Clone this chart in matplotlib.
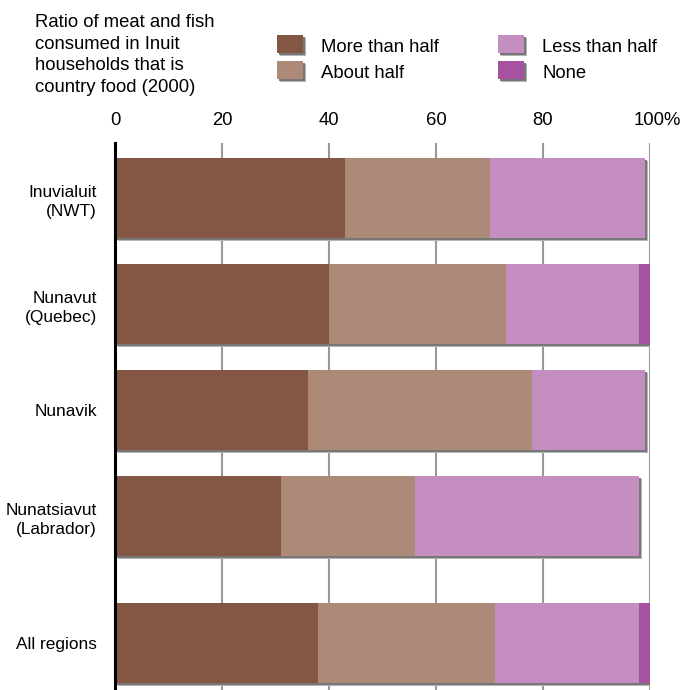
import matplotlib
matplotlib.use("Agg")
import matplotlib.pyplot as plt
import matplotlib.patheffects as pe
from matplotlib.patches import Rectangle
from matplotlib.transforms import ScaledTranslation
import numpy as np

plt.rcParams['font.family'] = ['Liberation Sans', 'DejaVu Sans']

regions = ["Inuvialuit\n(NWT)", "Nunavut\n(Quebec)", "Nunavik", "Nunatsiavut\n(Labrador)", "All regions"]
row_pos = [0, 1, 2, 3, 4.2]
series_names = ["More than half", "About half", "Less than half", "None"]
more_than_half = [43, 40, 36, 31, 38]
about_half = [27, 33, 42, 25, 33]
less_than_half = [29, 25, 21, 42, 27]
none = [0, 2, 0, 0, 2]
colors = ["#845644", "#AC8A77", "#C48EC0", "#A652A0"]
xticks = [0, 20, 40, 60, 80, 100]
xticklabels = ["0", "20", "40", "60", "80", "100%"]
title = "Ratio of meat and fish\nconsumed in Inuit\nhouseholds that is\ncountry food (2000)"

FS = 13.3
W, H = 682, 690
fig = plt.figure(figsize=(W / 100, H / 100), dpi=100)
ax = fig.add_axes([115 / W, 0, 535 / W, 547 / H])

shadow = [pe.SimplePatchShadow(offset=(2.2, -2.2), shadow_rgbFace="#b5b5b5", alpha=1.0),
          pe.SimplePatchShadow(offset=(1.4, -1.4), shadow_rgbFace="#777777", alpha=1.0),
          pe.Normal()]

series = [more_than_half, about_half, less_than_half, none]
left = np.zeros(len(regions))
for vals, c, name in zip(series, colors, series_names):
    v = np.array(vals, dtype=float)
    bars = ax.barh(row_pos, v, left=left, height=0.755, color=c, label=name, zorder=3)
    for b, val in zip(bars, v):
        if val > 0:
            b.set_path_effects(shadow)
        else:
            b.set_visible(False)
    left += v

ax.set_xlim(0, 100)
ax.set_ylim(4.64, -0.522)
ax.set_yticks(row_pos)
ax.set_yticklabels(regions, fontsize=12.4, linespacing=1.35)
ax.tick_params(axis='y', length=0, pad=13)
for lab in ax.get_yticklabels():
    lab.set_multialignment('right')

ax.xaxis.tick_top()
ax.set_xticks(xticks)
ax.set_xticklabels(xticklabels, fontsize=FS)
ax.tick_params(axis='x', length=0, pad=10)
last = ax.get_xticklabels()[-1]
last.set_transform(last.get_transform() + ScaledTranslation(7 / 100, 0, fig.dpi_scale_trans))

ax.grid(axis='x', color="#999999", linewidth=1.5, zorder=1)
ax.set_axisbelow(True)
for s in ["top", "right", "bottom"]:
    ax.spines[s].set_visible(False)
ax.spines["left"].set_linewidth(2.2)
ax.spines["left"].set_color("black")
ax.spines["left"].set_zorder(4)

fig.text(35 / W, 1 - 14 / H, title, fontsize=FS, va='top', ha='left', linespacing=1.36)

# legend
leg_x = [277, 277, 498, 498]
leg_y = [35, 61, 35, 61]
for name, c, x, y in zip(series_names, colors, leg_x, leg_y):
    r = Rectangle((x / W, 1 - (y + 18) / H), 26 / W, 18 / H, transform=fig.transFigure,
                  facecolor=c, edgecolor='none')
    r.set_path_effects(shadow)
    fig.add_artist(r)
    fig.text((x + 44) / W, 1 - (y + 12) / H, name, fontsize=FS, va='center', ha='left')

fig.savefig("out.png", dpi=100)
